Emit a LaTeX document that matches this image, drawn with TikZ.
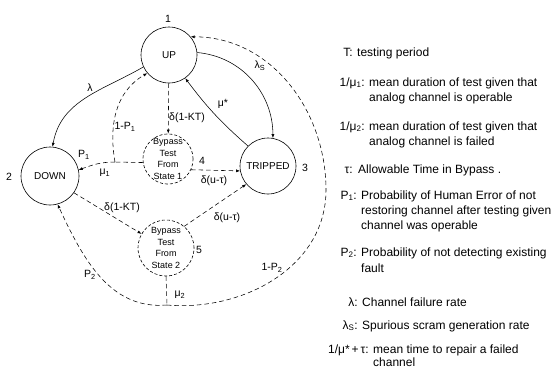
\documentclass[tikz,border=0pt]{standalone}
\usepackage{fontspec}
\setmainfont{Liberation Sans}
\usetikzlibrary{arrows.meta}
\newcommand{\sbs}[1]{\textsubscript{#1}}
\begin{document}
\begin{tikzpicture}[x=1pt,y=1pt,
  state/.style={circle,draw,line width=0.6pt,minimum size=56pt,inner sep=0pt,font=\fontsize{10}{11}\selectfont},
  bypass/.style={circle,draw,line width=0.6pt,dash pattern=on 3pt off 2pt,minimum size=50pt,inner sep=0pt,align=center,font=\fontsize{9}{11.5}\selectfont},
  arr/.style={line width=0.55pt,-{Latex[length=4pt,width=3pt]}},
  ln/.style={line width=0.55pt},
  dsh/.style={dash pattern=on 4.5pt off 3pt},
  lbl/.style={font=\fontsize{10.5}{11}\selectfont,inner sep=1pt},
  key/.style={anchor=base east,font=\fontsize{12}{13}\selectfont,inner sep=0pt},
  desc/.style={anchor=base west,font=\fontsize{12}{13}\selectfont,inner sep=0pt},
]
\useasboundingbox (0,0) rectangle (555,-376);

% states
\node[state] (up) at (169,-55) {UP};
\node[state,minimum size=58pt] (down) at (50,-176) {DOWN};
\node[state] (trip) at (268,-166) {TRIPPED};
\node[bypass] (b4) at (168,-159) {Bypass\\Test\\From\\State 1};
\node[bypass,minimum size=56pt] (b5) at (166,-248) {Bypass\\Test\\From\\State 2};

% state numbers
\node[lbl] (n1) at (168,-19) {1};
\node[lbl] (n2) at (9,-177) {2};
\node[lbl] (n3) at (305,-168) {3};
\node[lbl] (n4) at (202,-161) {4};
\node[lbl] (n5) at (199,-250) {5};

% junctions
\coordinate (j1) at (115,-162);
\coordinate (j2) at (167,-305);
\coordinate (r) at (326,-190);

% solid transitions
\draw[arr] (up.205) to[out=210,in=80] (down.85);
\draw[arr] (up.5) to[out=-5,in=90] (trip.80);
\draw[arr] (trip.135) to[bend left=6] (up.-55);

% dashed transitions
\draw[arr,dsh] (up) -- (b4);
\draw[ln,dsh] (b4.188) -- (j1);
\draw[arr,dsh] (j1) to[out=180,in=20] (down.12);
\draw[arr,dsh] (j1) to[out=100,in=210] (up.220);
\draw[arr,dsh] (b4.-25) -- (trip.190);
\draw[arr,dsh] (down.-35) -- (b5.150);
\draw[arr,dsh] (b5.50) -- (trip.220);
\draw[ln,dsh] (b5.south) -- (j2);
\draw[arr,dsh] (j2) to[out=185,in=-65] (down.-75);
\draw[arr,dsh] (j2) to[out=-5,in=-90] (r) to[out=90,in=0] (up.40);

% transition labels
\node[lbl] (llam) at (90,-88) {λ};
\node[lbl] (lp1) at (84,-155) {P\sbs{1}};
\node[lbl] (lmu1) at (105,-173) {μ\sbs{1}};
\node[lbl] (l1p1) at (125,-127) {1-P\sbs{1}};
\node[lbl] (ld1) at (187,-118) {δ(1-KT)};
\node[lbl] (lmus) at (223,-104) {μ*};
\node[lbl] (llams) at (260,-66) {λ\sbs{S}};
\node[lbl] (ld2) at (214,-181) {δ(u-τ)};
\node[lbl] (ld3) at (122,-208) {δ(1-KT)};
\node[lbl] (ld4) at (227,-218) {δ(u-τ)};
\node[lbl] (lp2) at (90,-275) {P\sbs{2}};
\node[lbl] (lmu2) at (180,-295) {μ\sbs{2}};
\node[lbl] (l1p2) at (272,-268) {1-P\sbs{2}};

% legend
\node[key] (k1) at (353,-56) {T:};
\node[desc] (d1) at (357,-56) {testing period};
\node[key] (k2) at (365,-86) {1/μ\sbs{1}:};
\node[desc] (d2a) at (369,-86) {mean duration of test given that};
\node[desc] (d2b) at (369,-101) {analog channel is operable};
\node[key] (k3) at (365,-130) {1/μ\sbs{2}:};
\node[desc] (d3a) at (369,-130) {mean duration of test given that};
\node[desc] (d3b) at (369,-145) {analog channel is failed};
\node[key] (k4) at (353,-173) {τ:};
\node[desc] (d4) at (358,-173) {Allowable Time in Bypass .};
\node[key] (k5) at (357,-199) {P\sbs{1}:};
\node[desc] (d5a) at (361,-199) {Probability of Human Error of not};
\node[desc] (d5b) at (361,-214) {restoring channel after testing given};
\node[desc] (d5c) at (361,-229) {channel was operable};
\node[key] (k6) at (357,-256) {P\sbs{2}:};
\node[desc] (d6a) at (361,-256) {Probability of not detecting existing};
\node[desc] (d6b) at (361,-272) {fault};
\node[key] (k7) at (358,-306) {λ:};
\node[desc] (d7) at (362,-306) {Channel failure rate};
\node[key] (k8) at (358,-329) {λ\sbs{S}:};
\node[desc] (d8) at (362,-329) {Spurious scram generation rate};
\node[key] (k9) at (369,-353) {1/μ*\,+\,τ:};
\node[desc] (d9a) at (373,-353) {mean time to repair a failed};
\node[desc] (d9b) at (373,-366) {channel};
\end{tikzpicture}
\end{document}
